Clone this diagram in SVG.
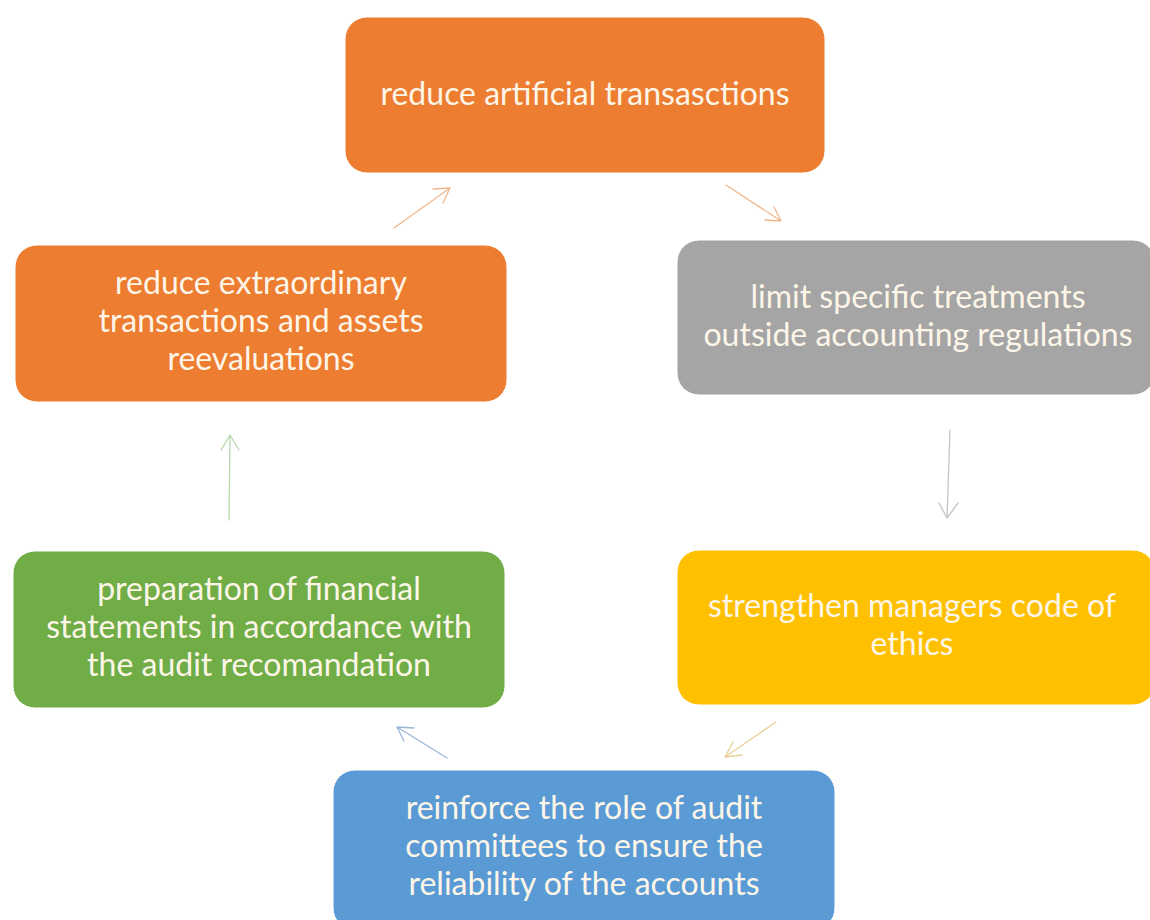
<svg xmlns="http://www.w3.org/2000/svg" width="1150" height="920" viewBox="0 0 1150 920">
<style>
.box{stroke:#fff;stroke-width:1}
.t{font-family:Lato,"Open Sans",sans-serif;font-size:32px;fill:#fdf6e8;text-anchor:middle}
.c{fill:none;stroke-width:1.3;stroke-linecap:round;stroke-linejoin:round;opacity:0.75}
</style>
<rect width="1150" height="920" fill="#fff"/>
<g id="n1"><rect class="box" x="345" y="17" width="480" height="156" rx="22" fill="#ED7D31"/><text class="t" x="585" y="105">reduce artificial transasctions</text></g>
<g id="n2"><rect class="box" x="677" y="240" width="478" height="155" rx="22" fill="#A5A5A5"/><text class="t" x="918" y="308">limit specific treatments</text><text class="t" x="918" y="346">outside accounting regulations</text></g>
<g id="n3"><rect class="box" x="677" y="550" width="478" height="155" rx="22" fill="#FFC000"/><text class="t" x="912" y="617">strengthen managers code of</text><text class="t" x="912" y="655">ethics</text></g>
<g id="n4"><rect class="box" x="333" y="770" width="502" height="160" rx="22" fill="#5B9BD5"/><text class="t" x="584" y="819">reinforce the role of audit</text><text class="t" x="584" y="857">committees to ensure the</text><text class="t" x="584" y="895">reliability of the accounts</text></g>
<g id="n5"><rect class="box" x="13" y="551" width="492" height="157" rx="22" fill="#70AD47"/><text class="t" x="259" y="600">preparation of financial</text><text class="t" x="259" y="638">statements in accordance with</text><text class="t" x="259" y="676">the audit recomandation</text></g>
<g id="n6"><rect class="box" x="15" y="245" width="492" height="157" rx="22" fill="#ED7D31"/><text class="t" x="261" y="294">reduce extraordinary</text><text class="t" x="261" y="332">transactions and assets</text><text class="t" x="261" y="370">reevaluations</text></g>
<g id="connectors">
<path class="c" stroke="#E8A06A" d="M394 228 L450 188 M433 189 L450 188 L443 203"/>
<path class="c" stroke="#E8A06A" d="M726 185 L781 221 M765 220 L781 221 L774 207"/>
<path class="c" stroke="#B0B0B0" d="M950 430 L947 518 M939 503 L947 518 L958 503"/>
<path class="c" stroke="#E0C070" d="M776 722 L725 757 M742 755 L725 757 L733 742"/>
<path class="c" stroke="#7A9CC8" d="M447 758 L397 727 M414 728 L397 727 L404 741"/>
<path class="c" stroke="#9CCB90" d="M229 520 L230 435 M221 450 L230 435 L239 450"/>
</g>
</svg>
